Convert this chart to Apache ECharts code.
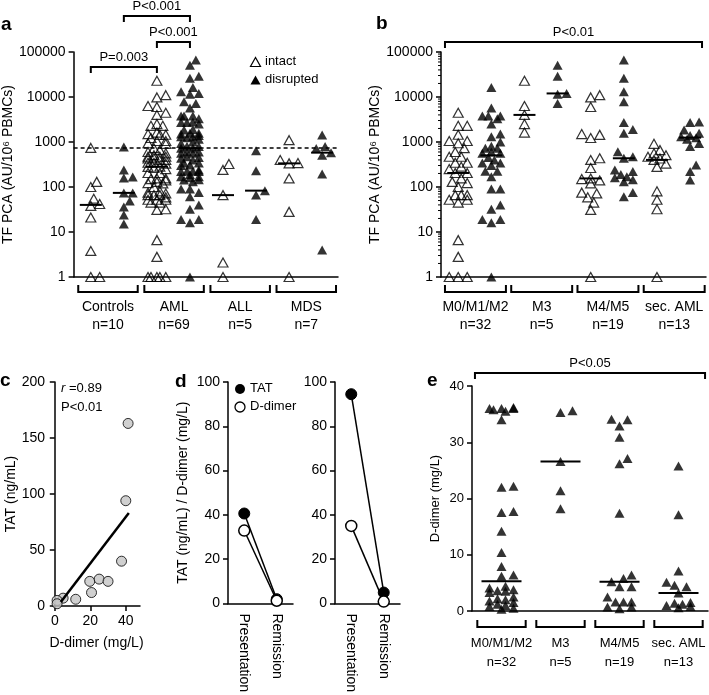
<!DOCTYPE html>
<html><head><meta charset="utf-8">
<script src="https://cdn.jsdelivr.net/npm/echarts@6/dist/echarts.min.js"></script>
<style>html,body{margin:0;padding:0;background:#fff}#c{width:709px;height:695px}</style>
</head><body><div id="c"></div><script>
// ---------------- DATA ----------------
const groupsA = ['Controls', 'AML', 'ALL', 'MDS'];
const nA = ['n=10', 'n=69', 'n=5', 'n=7'];
const controlsIntact = [740, 130, 100, 55, 42, 38, 21, 3.8, 1, 1];
const controlsDisrupted = [770, 240, 166, 158, 74, 74, 49, 36, 24, 15];
const allIntact = [325, 240, 66, 2.1, 1];
const allDisrupted = [640, 230, 83, 66, 19];
const mdsIntact = [1100, 400, 340, 335, 155, 28, 1];
const mdsDisrupted = [1430, 790, 720, 580, 510, 195, 4];
const cutoffTF = 760;
const pValuesA = ['P=0.003', 'P<0.001', 'P<0.001'];

const groupsB = ['M0/M1/M2', 'M3', 'M4/M5', 'sec. AML'];
const nB = ['n=32', 'n=5', 'n=19', 'n=13'];
const m012Intact = [4470, 2290, 2290, 1450, 1050, 1050, 940, 730, 600, 470, 470, 345, 345, 283, 250, 205, 205, 155, 130, 122, 100, 66, 66, 66, 52, 52, 45, 6.6, 2.8, 1, 1, 1];
const m012Disrupted = [16300, 5660, 3800, 3800, 3800, 3300, 2500, 1500, 1310, 1000, 800, 730, 730, 600, 560, 560, 450, 400, 340, 340, 300, 225, 225, 170, 90, 90, 40, 32, 19, 19, 16, 1];
const m3Intact = [23000, 6300, 4000, 2500, 1620];
const m3Disrupted = [51000, 29000, 12000, 11500, 7200];
const m45Intact = [11000, 9800, 6000, 1500, 1440, 1230, 435, 400, 265, 155, 150, 140, 120, 75, 72, 59, 45, 31, 1];
const m45Disrupted = [66000, 26000, 13000, 7800, 2700, 1900, 1560, 610, 470, 435, 240, 220, 190, 170, 160, 145, 130, 75, 61];
const secIntact = [910, 660, 560, 510, 470, 430, 400, 330, 280, 80, 52, 32, 1];
const secDisrupted = [2800, 2700, 1850, 1560, 1400, 1300, 1250, 1150, 930, 790, 310, 220, 143];
const pValueB = 'P<0.01';
// AML (panel a) = all FAB subgroups together
const amlIntact = [].concat(m012Intact, m3Intact, m45Intact, secIntact);
const amlDisrupted = [].concat(m012Disrupted, m3Disrupted, m45Disrupted, secDisrupted);

const dDimerX = [41.3, 40.0, 37.6, 19.7, 25.0, 30.0, 20.7, 11.8, 4.7, 1.3, 1.3];
const tatY = [163, 94, 40, 22, 24, 22, 12, 6, 7, 5, 2];
const fitX = [3.4, 41.7];
const fitY = [3.6, 83];
const corrTexts = ['=0.89', 'P<0.01'];

const timepoints = ['Presentation', 'Remission'];
const pt1TAT = [40.6, 1.9];
const pt1DD = [32.9, 1.2];
const pt2TAT = [94.5, 4.9];
const pt2DD = [35, 0.8];

const ddM012 = [36.2, 36, 36, 35.8, 35.5, 36, 34, 22.2, 22, 17.7, 17.5, 14.2, 10.4, 7.9, 6.4, 6.2, 4.4, 4.1, 3.8, 3.6, 3.5, 3.3, 2.5, 2.2, 2.0, 1.8, 1.5, 1.2, 1.0, 0.8, 0.5, 0.3];
const ddM3 = [35.6, 35.3, 26.6, 21.4, 18.2];
const ddM45 = [34.1, 34.0, 32.9, 30.9, 27.1, 26.2, 17.4, 6.4, 5.8, 5.2, 4.3, 4.3, 2.5, 1.6, 1.6, 1.6, 0.7, 0.7, 0.4];
const ddSec = [25.8, 17.1, 7.1, 5.1, 4.6, 4.3, 3.2, 1.5, 1.4, 1.2, 1.0, 0.8, 0.6];
const pValueE = 'P<0.05';

// ---------------- LAYOUT / HELPERS ----------------
const FONT = '"Liberation Sans", Arial, "DejaVu Sans", sans-serif';
const G = {
  a: {left: 70, top: 52, width: 268, height: 225},
  b: {left: 441, top: 52, width: 265, height: 225},
  c: {left: 53, top: 382, width: 87, height: 224},
  d1: {left: 228, top: 382, width: 65, height: 224},
  d2: {left: 335, top: 382, width: 65, height: 224},
  e: {left: 472, top: 386, width: 236, height: 225}
};
const median = arr => { const s = arr.slice().sort((x, y) => x - y); const n = s.length; return n % 2 ? s[(n - 1) / 2] : (s[n / 2 - 1] + s[n / 2]) / 2; };

// deterministic beeswarm: horizontal pixel offsets so markers don't overlap much
function swarm(vals, toPx, r, step, maxK) {
  const idx = vals.map((v, i) => i).sort((a, b) => toPx(vals[a]) - toPx(vals[b]));
  const placed = [], off = new Array(vals.length);
  for (const i of idx) {
    const y = toPx(vals[i]);
    let best = 0, bestScore = Infinity;
    for (let k = 0; k <= 2 * maxK; k++) {
      const cand = (k % 2 ? 1 : -1) * Math.ceil(k / 2) * step;
      let ov = 0;
      for (const p of placed) { const d = Math.hypot(cand - p.x, y - p.y); if (d < r) ov += r - d; }
      if (ov === 0) { best = cand; bestScore = 0; break; }
      if (ov < bestScore - 1e-9) { bestScore = ov; best = cand; }
    }
    placed.push({x: best, y}); off[i] = best;
  }
  return off;
}
function column(vals, center, pxPerUnit, toPx, r, step, maxK) {
  const off = swarm(vals, toPx, r, step, maxK);
  return vals.map((v, i) => [center + off[i] / pxPerUnit, v]);
}
const logPx = v => Math.log10(v) * 45;
const linPxE = v => v * G.e.height / 40;
const puA = G.a.width / 4, puB = G.b.width / 4, puE = G.e.width / 4;
const IN = 0.26, DI = 0.76;

const colsA = [[controlsIntact, controlsDisrupted], [amlIntact, amlDisrupted], [allIntact, allDisrupted], [mdsIntact, mdsDisrupted]];
const colsB = [[m012Intact, m012Disrupted], [m3Intact, m3Disrupted], [m45Intact, m45Disrupted], [secIntact, secDisrupted]];
const colsE = [ddM012, ddM3, ddM45, ddSec];

function build(cols, pu) {
  const intact = [], disr = [], meds = [];
  cols.forEach((c, k) => {
    intact.push(...column(c[0], k + IN, pu, logPx, 7.5, 3, 3));
    disr.push(...column(c[1], k + DI, pu, logPx, 7.5, 3, 3));
    meds.push([k + IN, median(c[0])], [k + DI, median(c[1])]);
  });
  return {intact, disr, meds};
}
const A = build(colsA, puA), B = build(colsB, puB);
const E = {pts: [], meds: []};
colsE.forEach((c, k) => { E.pts.push(...column(c, k + 0.5, puE, linPxE, 8.5, 4, 3)); E.meds.push([k + 0.5, median(c)]); });

const openTri = {color: 'rgba(255,255,255,0)', borderColor: '#000', borderWidth: 1.2};
const fillTri = {color: '#000'};
const TRI = [10, 9];

function medianSeries(xi, yi, pts, half) {
  return {type: 'custom', xAxisIndex: xi, yAxisIndex: yi, silent: true, z: 5, clip: false, data: pts,
    renderItem(params, api) {
      const p = api.coord([api.value(0), api.value(1)]);
      return {type: 'line', shape: {x1: p[0] - half, y1: p[1], x2: p[0] + half, y2: p[1]}, style: {stroke: '#000', lineWidth: 2}};
    }};
}
function groupSeries(xi, yi, yMin, names, ns, lo, hi, o) {
  return {type: 'custom', xAxisIndex: xi, yAxisIndex: yi, silent: true, clip: false,
    data: names.map((_, i) => [i, yMin]),
    renderItem(params, api) {
      const k = params.dataIndex;
      const a = api.coord([k + lo, yMin]), b = api.coord([k + hi, yMin]);
      const y = a[1] + o.br, cx = (a[0] + b[0]) / 2;
      return {type: 'group', children: [
        {type: 'polyline', shape: {points: [[a[0], y - 7], [a[0], y], [b[0], y], [b[0], y - 7]]}, style: {stroke: '#000', lineWidth: 2, fill: null}},
        {type: 'text', style: {text: names[k], x: cx, y: a[1] + o.l1, align: 'center', verticalAlign: 'middle', font: o.fs + 'px ' + FONT, fill: '#000'}},
        {type: 'text', style: {text: ns[k], x: cx, y: a[1] + o.l2, align: 'center', verticalAlign: 'middle', font: o.fs + 'px ' + FONT, fill: '#000'}}
      ]};
    }};
}
// significance brackets: items {x1, x2, dy (line offset from grid top), text}
function pSeries(xi, yi, yRef, items, fs) {
  return {type: 'custom', xAxisIndex: xi, yAxisIndex: yi, silent: true, clip: false,
    data: items.map(it => [it.x1, yRef]),
    renderItem(params, api) {
      const it = items[params.dataIndex], cs = params.coordSys;
      const a = api.coord([it.x1, yRef]), b = api.coord([it.x2, yRef]);
      const y = cs.y + it.dy;
      return {type: 'group', children: [
        {type: 'polyline', shape: {points: [[a[0], y + 6], [a[0], y], [b[0], y], [b[0], y + 6]]}, style: {stroke: '#000', lineWidth: 2, fill: null}},
        {type: 'text', style: {text: it.text, x: (a[0] + b[0]) / 2, y: y - 10, align: 'center', verticalAlign: 'middle', font: fs + 'px ' + FONT, fill: '#000'}}
      ]};
    }};
}
function minorTicks(xi, yi, xRef) {
  const d = [];
  for (let e = 0; e < 5; e++) for (let m = 2; m <= 9; m++) d.push([xRef, m * Math.pow(10, e)]);
  return {type: 'custom', xAxisIndex: xi, yAxisIndex: yi, silent: true, clip: false, data: d,
    renderItem(params, api) {
      const p = api.coord([xRef, api.value(1)]);
      return {type: 'line', shape: {x1: p[0] - 3, y1: p[1], x2: p[0], y2: p[1]}, style: {stroke: '#000', lineWidth: 1}};
    }};
}

const axLine = {show: true, lineStyle: {color: '#000', width: 1.5}};
const tick = {show: true, length: 5, lineStyle: {color: '#000', width: 1.5}};
const lbl = fs => ({color: '#000', fontSize: fs, fontFamily: FONT});
const hiddenX = (gi, max) => ({type: 'value', gridIndex: gi, min: 0, max: max, axisLine: axLine, axisTick: {show: false}, axisLabel: {show: false}, splitLine: {show: false}});
const logY = (gi, name) => ({type: 'log', logBase: 10, gridIndex: gi, min: 1, max: 100000,
  name: name, nameLocation: 'middle', nameGap: 51, nameTextStyle: lbl(14),
  axisLine: axLine, axisTick: tick, splitLine: {show: false},
  axisLabel: Object.assign(lbl(14), {margin: 8, formatter: v => String(Math.round(v))})});
const TFNAME = 'TF PCA (AU/10\u2076 PBMCs)';

const option = {
  animation: false,
  backgroundColor: '#fff',
  textStyle: {fontFamily: FONT},
  grid: [G.a, G.b, G.c, G.d1, G.d2, G.e].map(g => Object.assign({containLabel: false}, g)),
  xAxis: [
    hiddenX(0, 4), hiddenX(1, 4),
    {type: 'value', gridIndex: 2, min: -1, max: 48, axisLine: axLine, splitLine: {show: false},
      axisTick: Object.assign({}, tick, {customValues: [0, 20, 40]}),
      axisLabel: Object.assign(lbl(14), {margin: 8, customValues: [0, 20, 40]}),
      name: 'D-dimer (mg/L)', nameLocation: 'middle', nameGap: 30, nameTextStyle: lbl(14)},
    {type: 'category', gridIndex: 3, data: timepoints, boundaryGap: true, axisLine: axLine, axisTick: {show: false},
      axisLabel: Object.assign(lbl(14), {rotate: -90, margin: 10, interval: 0})},
    {type: 'category', gridIndex: 4, data: timepoints, boundaryGap: true, axisLine: axLine, axisTick: {show: false},
      axisLabel: Object.assign(lbl(14), {rotate: -90, margin: 10, interval: 0})},
    hiddenX(5, 4)
  ],
  yAxis: [
    logY(0, TFNAME), logY(1, TFNAME),
    {type: 'value', gridIndex: 2, min: 0, max: 200, interval: 50, axisLine: axLine, axisTick: tick, splitLine: {show: false},
      axisLabel: Object.assign(lbl(14), {margin: 8}),
      name: 'TAT (ng/mL)', nameLocation: 'middle', nameGap: 34, nameTextStyle: lbl(14)},
    {type: 'value', gridIndex: 3, min: 0, max: 100, interval: 20, axisLine: axLine, axisTick: tick, splitLine: {show: false},
      axisLabel: Object.assign(lbl(14), {margin: 8}),
      name: 'TAT (ng/mL) / D-dimer (mg/L)', nameLocation: 'middle', nameGap: 38, nameTextStyle: lbl(14)},
    {type: 'value', gridIndex: 4, min: 0, max: 100, interval: 20, axisLine: axLine, axisTick: tick, splitLine: {show: false},
      axisLabel: Object.assign(lbl(14), {margin: 8})},
    {type: 'value', gridIndex: 5, min: 0, max: 40, interval: 10, axisLine: axLine, axisTick: tick, splitLine: {show: false},
      axisLabel: Object.assign(lbl(13), {margin: 8}),
      name: 'D-dimer (mg/L)', nameLocation: 'middle', nameGap: 30, nameTextStyle: lbl(13)}
  ],
  series: [
    // panel a
    {type: 'scatter', name: 'intact', xAxisIndex: 0, yAxisIndex: 0, clip: false, symbol: 'triangle', symbolSize: TRI, itemStyle: openTri, data: A.intact,
      markLine: {silent: true, symbol: 'none', label: {show: false}, lineStyle: {type: [4, 3], color: '#000', width: 1.5}, data: [{yAxis: cutoffTF}]}},
    {type: 'scatter', name: 'disrupted', xAxisIndex: 0, yAxisIndex: 0, clip: false, symbol: 'triangle', symbolSize: TRI, itemStyle: fillTri, data: A.disr},
    medianSeries(0, 0, A.meds, 11),
    groupSeries(0, 0, 1, groupsA, nA, 0.07, 0.97, {br: 15, l1: 30, l2: 48, fs: 14}),
    pSeries(0, 0, 1, [
      {x1: IN, x2: 1 + IN, dy: 15, text: pValuesA[0]},
      {x1: DI, x2: 1 + DI, dy: -36, text: pValuesA[1]},
      {x1: 1 + IN, x2: 1 + DI, dy: -10, text: pValuesA[2]}], 13),
    // panel b
    {type: 'scatter', name: 'intact', xAxisIndex: 1, yAxisIndex: 1, clip: false, symbol: 'triangle', symbolSize: TRI, itemStyle: openTri, data: B.intact},
    {type: 'scatter', name: 'disrupted', xAxisIndex: 1, yAxisIndex: 1, clip: false, symbol: 'triangle', symbolSize: TRI, itemStyle: fillTri, data: B.disr},
    medianSeries(1, 1, B.meds, 11),
    groupSeries(1, 1, 1, groupsB, nB, 0.06, 0.98, {br: 15, l1: 30, l2: 48, fs: 14}),
    pSeries(1, 1, 1, [{x1: 0.06, x2: 3.94, dy: -10, text: pValueB}], 13),
    minorTicks(1, 1, 0),
    // panel c
    {type: 'scatter', xAxisIndex: 2, yAxisIndex: 2, clip: false, symbol: 'circle', symbolSize: 10,
      itemStyle: {color: '#c4c4c4', borderColor: '#000', borderWidth: 1}, data: dDimerX.map((x, i) => [x, tatY[i]]), z: 3},
    {type: 'line', xAxisIndex: 2, yAxisIndex: 2, showSymbol: false, symbol: 'none', lineStyle: {color: '#000', width: 2.5},
      data: fitX.map((x, i) => [x, fitY[i]]), z: 4},
    // panel d
    {type: 'line', xAxisIndex: 3, yAxisIndex: 3, data: pt1TAT, symbol: 'circle', symbolSize: 11, clip: false,
      lineStyle: {color: '#000', width: 1.5}, itemStyle: {color: '#000', borderColor: '#000'}},
    {type: 'line', xAxisIndex: 3, yAxisIndex: 3, data: pt1DD, symbol: 'circle', symbolSize: 11, clip: false,
      lineStyle: {color: '#000', width: 1.5}, itemStyle: {color: '#fff', borderColor: '#000', borderWidth: 1.5}},
    {type: 'line', xAxisIndex: 4, yAxisIndex: 4, data: pt2TAT, symbol: 'circle', symbolSize: 11, clip: false,
      lineStyle: {color: '#000', width: 1.5}, itemStyle: {color: '#000', borderColor: '#000'}},
    {type: 'line', xAxisIndex: 4, yAxisIndex: 4, data: pt2DD, symbol: 'circle', symbolSize: 11, clip: false,
      lineStyle: {color: '#000', width: 1.5}, itemStyle: {color: '#fff', borderColor: '#000', borderWidth: 1.5}},
    // panel e
    {type: 'scatter', xAxisIndex: 5, yAxisIndex: 5, clip: false, symbol: 'triangle', symbolSize: TRI, itemStyle: fillTri, data: E.pts},
    medianSeries(5, 5, E.meds, 20),
    groupSeries(5, 5, 0, groupsB, nB, 0.09, 0.91, {br: 16, l1: 32, l2: 51, fs: 13}),
    pSeries(5, 5, 0, [{x1: 0.05, x2: 3.95, dy: -13, text: pValueE}], 13)
  ],
  graphic: [
    // panel letters
    {type: 'text', left: 1, top: 15, style: {text: 'a', font: 'bold 19px ' + FONT, fill: '#000'}},
    {type: 'text', left: 376, top: 14, style: {text: 'b', font: 'bold 19px ' + FONT, fill: '#000'}},
    {type: 'text', left: 0, top: 371, style: {text: 'c', font: 'bold 19px ' + FONT, fill: '#000'}},
    {type: 'text', left: 175, top: 372, style: {text: 'd', font: 'bold 19px ' + FONT, fill: '#000'}},
    {type: 'text', left: 427, top: 371, style: {text: 'e', font: 'bold 19px ' + FONT, fill: '#000'}},
    // legend a
    {type: 'polygon', shape: {points: [[255.5, 57.5], [250.5, 66.5], [260.5, 66.5]]}, style: {fill: 'none', stroke: '#000', lineWidth: 1.2}},
    {type: 'text', left: 265, top: 55, style: {text: 'intact', font: '13px ' + FONT, fill: '#000'}},
    {type: 'polygon', shape: {points: [[255.5, 75.5], [250.5, 84.5], [260.5, 84.5]]}, style: {fill: '#000'}},
    {type: 'text', left: 265, top: 73, style: {text: 'disrupted', font: '13px ' + FONT, fill: '#000'}},
    // correlation text c
    {type: 'text', left: 61, top: 382, style: {text: 'r', font: 'italic 13px ' + FONT, fill: '#000'}},
    {type: 'text', left: 69, top: 382, style: {text: corrTexts[0], font: '13px ' + FONT, fill: '#000'}},
    {type: 'text', left: 61, top: 401, style: {text: corrTexts[1], font: '13px ' + FONT, fill: '#000'}},
    // legend d
    {type: 'circle', shape: {cx: 240, cy: 389, r: 5}, style: {fill: '#000'}},
    {type: 'text', left: 250, top: 382, style: {text: 'TAT', font: '13px ' + FONT, fill: '#000'}},
    {type: 'circle', shape: {cx: 240, cy: 407, r: 5}, style: {fill: '#fff', stroke: '#000', lineWidth: 1.3}},
    {type: 'text', left: 250, top: 400, style: {text: 'D-dimer', font: '13px ' + FONT, fill: '#000'}}
  ]
};
const chart = echarts.init(document.getElementById('c'));
chart.setOption(option);
</script></body></html>
